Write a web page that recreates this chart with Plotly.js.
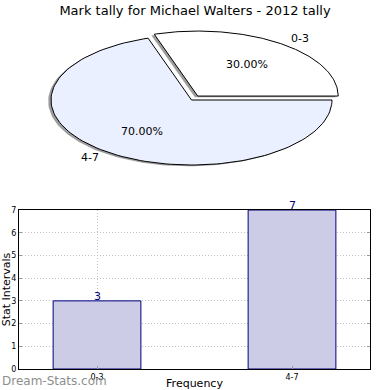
<!DOCTYPE html>
<html><head><meta charset="utf-8">
<script src="https://cdn.plot.ly/plotly-3.0.1.min.js"></script>
<style>html,body{margin:0;padding:0;background:#fff}#chart{width:390px;height:390px}</style>
</head><body><div id="chart"></div>
<script>
const titleText = 'Mark tally for Michael Walters - 2012 tally';
const sliceLabels = ['0-3', '4-7'];
const sliceValues = [3, 7];
const sliceExplode = [0.075, 0];
const sliceColors = ['#ffffff', '#eaf0ff'];
const barCategories = ['0-3', '4-7'];
const barValues = [3, 7];
const yTickValues = [0, 1, 2, 3, 4, 5, 6, 7];

const FONT = 'DejaVu Sans, Verdana, sans-serif';
const total = sliceValues.reduce((a, b) => a + b, 0);
const traces = [];
const shadows = [];
const wedges = [];
const annotations = [];
let start = 0;
sliceValues.forEach((v, i) => {
  const frac = v / total;
  const t1 = start, t2 = start + frac * 2 * Math.PI;
  const mid = (t1 + t2) / 2;
  const cx = sliceExplode[i] * Math.cos(mid), cy = sliceExplode[i] * Math.sin(mid);
  const xs = [cx], ys = [cy];
  const n = 120;
  for (let k = 0; k <= n; k++) {
    const t = t1 + (t2 - t1) * k / n;
    xs.push(cx + Math.cos(t)); ys.push(cy + Math.sin(t));
  }
  xs.push(cx); ys.push(cy);
  shadows.push({type: 'scatter', mode: 'lines', x: xs.map(x => x - 0.02), y: ys.map(y => y - 0.02),
    xaxis: 'x2', yaxis: 'y2', fill: 'toself', fillcolor: 'rgba(60,60,60,0.5)', line: {width: 0, color: 'rgba(0,0,0,0)'},
    hoverinfo: 'skip', showlegend: false});
  wedges.push({type: 'scatter', mode: 'lines', x: xs, y: ys, xaxis: 'x2', yaxis: 'y2', fill: 'toself',
    fillcolor: sliceColors[i], line: {width: 1, color: '#000000'}, name: sliceLabels[i], showlegend: false,
    hoverinfo: 'name'});
  annotations.push({xref: 'x2', yref: 'y2', x: cx + 0.6 * Math.cos(mid), y: cy + 0.6 * Math.sin(mid),
    text: (frac * 100).toFixed(2) + '%', showarrow: false, font: {family: FONT, size: 11, color: '#000'},
    xanchor: 'center', yanchor: 'middle'});
  annotations.push({xref: 'x2', yref: 'y2', x: cx + 1.1 * Math.cos(mid), y: cy + 1.1 * Math.sin(mid),
    text: sliceLabels[i], showarrow: false, font: {family: FONT, size: 11, color: '#000'},
    xanchor: Math.cos(mid) >= 0 ? 'left' : 'right', yanchor: 'middle'});
  start = t2;
});
traces.push(...shadows, ...wedges);

traces.push({type: 'bar', x: barCategories, y: barValues, width: 0.45,
  marker: {color: '#ccccE6', line: {color: '#000080', width: 1}},
  hoverinfo: 'x+y', showlegend: false});

barCategories.forEach((c, i) => {
  annotations.push({xref: 'x', yref: 'y', x: c, y: barValues[i], text: String(barValues[i]), showarrow: false,
    xanchor: 'center', yanchor: 'bottom', yshift: -4, font: {family: FONT, size: 11, color: '#000080'}});
});

annotations.push({xref: 'paper', yref: 'paper', x: -0.054, y: -0.033, xanchor: 'left', yanchor: 'middle',
  text: 'Dream-Stats.com', showarrow: false, font: {family: FONT, size: 12, color: '#8e8e8e'}});

const layout = {
  width: 390, height: 390,
  margin: {l: 19, r: 20, t: 0, b: 21},
  paper_bgcolor: '#fff', plot_bgcolor: '#fff',
  title: {text: titleText, x: 0.5, xref: 'container', y: 1 - 10 / 390, yref: 'container',
    xanchor: 'center', yanchor: 'middle', font: {family: FONT, size: 13, color: '#000'}},
  xaxis: {domain: [0, 1], range: [-0.4, 1.4], type: 'category', showgrid: true, gridcolor: '#c0c0c0',
    griddash: '1px,2px', gridwidth: 1, zeroline: false, showline: true, linecolor: '#000', linewidth: 1, mirror: true,
    ticks: 'inside', ticklen: 3, tickcolor: '#999', tickfont: {family: FONT, size: 8, color: '#000'},
    title: {text: 'Frequency', font: {family: FONT, size: 11, color: '#000'}, standoff: 9}, anchor: 'y'},
  yaxis: {domain: [0, 159 / 369], range: [0, 7], tickvals: yTickValues, showgrid: true, gridcolor: '#c0c0c0',
    griddash: '1px,2px', gridwidth: 1, zeroline: false, showline: true, linecolor: '#000', linewidth: 1, mirror: 'ticks',
    ticks: 'inside', ticklen: 3, tickcolor: '#999', tickfont: {family: FONT, size: 8, color: '#000'},
    title: {text: 'Stat Intervals', font: {family: FONT, size: 11, color: '#000'}, standoff: 0}, anchor: 'x'},
  xaxis2: {domain: [0, 1], range: [-172.5 / 140.5, 178.5 / 140.5], visible: false, anchor: 'y2', fixedrange: true},
  yaxis2: {domain: [0.5, 1], range: [-84.5 / 65, 100 / 65], visible: false, anchor: 'x2', fixedrange: true},
  annotations: annotations,
  showlegend: false
};
Plotly.newPlot('chart', traces, layout, {displayModeBar: false, staticPlot: true});
</script></body></html>
